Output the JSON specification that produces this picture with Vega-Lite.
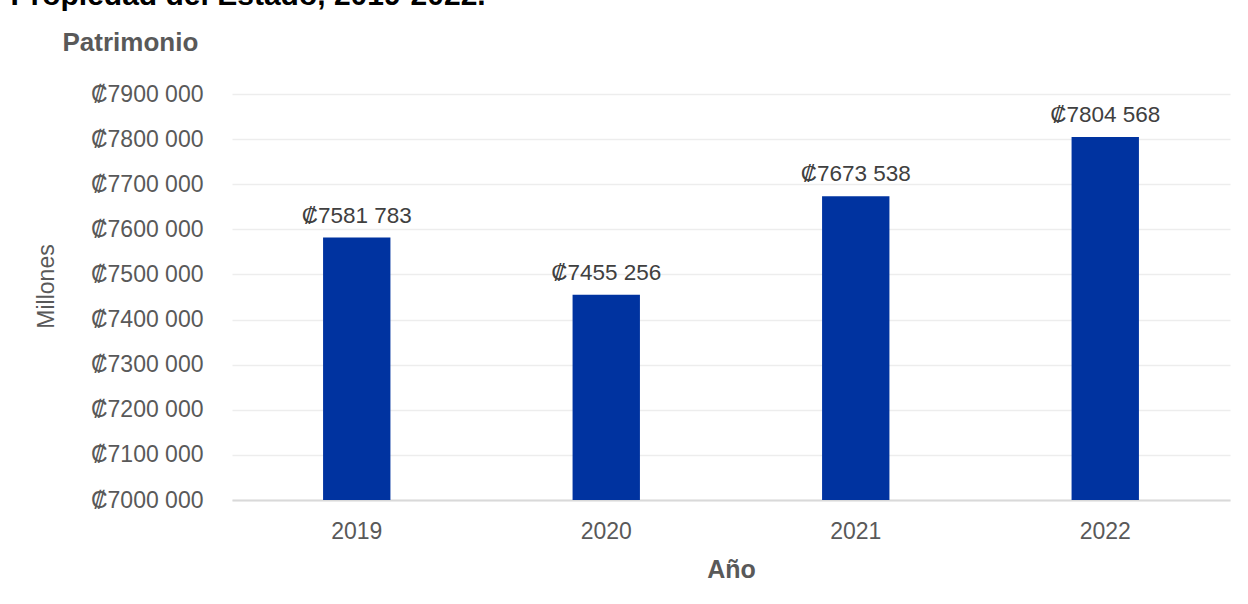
{
  "$schema": "https://vega.github.io/schema/vega-lite/v6.json",
  "width": 998,
  "height": 406,
  "autosize": {"type": "none"},
  "padding": {"left": 232, "top": 94, "right": 18, "bottom": 104},
  "background": "white",
  "config": {"view": {"stroke": null}, "font": "Liberation Sans"},
  "data": {
    "values": [
      {"year": "2019", "value": 7581783, "label": "₡7581 783"},
      {"year": "2020", "value": 7455256, "label": "₡7455 256"},
      {"year": "2021", "value": 7673538, "label": "₡7673 538"},
      {"year": "2022", "value": 7804568, "label": "₡7804 568"}
    ]
  },
  "layer": [
    {
      "mark": {"type": "bar", "color": "#0033A0"},
      "encoding": {
        "x": {
          "field": "year", "type": "nominal",
          "scale": {"paddingInner": 0.73, "paddingOuter": 0.365},
          "axis": {
            "orient": "bottom", "title": "Año", "labelAngle": 0,
            "labelFontSize": 23, "labelColor": "#595959", "labelPadding": 20,
            "ticks": false, "tickSize": 0, "domainColor": "#d9d9d9", "domainWidth": 2, "grid": false,
            "titleFontSize": 25, "titleFontWeight": "bold", "titleColor": "#595959",
            "titleY": 77, "titleBaseline": "alphabetic"
          }
        },
        "y": {
          "field": "value", "type": "quantitative",
          "scale": {"domain": [7000000, 7900000], "zero": false, "nice": false},
          "axis": {
            "values": [7000000, 7100000, 7200000, 7300000, 7400000, 7500000, 7600000, 7700000, 7800000, 7900000],
            "labelExpr": "'₡' + floor(datum.value/1000) + ' ' + format(datum.value % 1000, '03d')",
            "domain": false, "ticks": false, "tickSize": 0, "labelPadding": 29,
            "labelFontSize": 23, "labelColor": "#595959",
            "grid": true, "gridColor": "#ededed", "gridWidth": 1.5,
            "title": "Millones", "titleFontWeight": "normal", "titleFontSize": 23, "titleColor": "#595959",
            "titleAngle": -90, "titleX": -186, "titleY": 192, "titleAlign": "center", "titleBaseline": "middle"
          }
        },
        "y2": {"datum": 7000000}
      }
    },
    {
      "mark": {"type": "text", "dy": -15, "baseline": "alphabetic", "fontSize": 22.5, "color": "#404040"},
      "encoding": {
        "x": {
          "field": "year", "type": "nominal",
          "axis": {
            "orient": "top", "labels": false, "ticks": false, "domain": false, "grid": false,
            "title": "Patrimonio", "titleX": -170, "titleY": -44, "titleAlign": "left", "titleAnchor": "start",
            "titleBaseline": "alphabetic", "titleFontSize": 26, "titleFontWeight": "bold", "titleColor": "#595959"
          }
        },
        "y": {
          "field": "value", "type": "quantitative",
          "axis": {
            "orient": "right", "labels": false, "ticks": false, "domain": false, "grid": false,
            "title": "Propiedad del Estado, 2019-2022.", "titleAngle": 0, "titleX": -1220, "titleY": -90,
            "titleAlign": "left", "titleAnchor": "start", "titleBaseline": "alphabetic",
            "titleFontSize": 30, "titleFontWeight": "bold", "titleColor": "#000000"
          }
        },
        "text": {"field": "label"}
      }
    }
  ],
  "resolve": {"axis": {"x": "independent", "y": "independent"}}
}
